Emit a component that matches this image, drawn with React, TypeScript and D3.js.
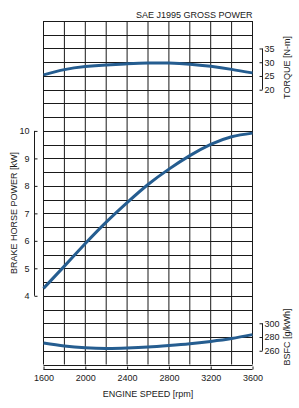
import React, { useEffect, useRef } from 'react';
import * as d3 from 'd3';

const rpm = [1600, 1800, 2000, 2200, 2400, 2600, 2800, 3000, 3200, 3400, 3600];
const torque = [25.4, 27.3, 28.4, 29.0, 29.4, 29.7, 29.7, 29.3, 28.5, 27.4, 26.1];
const power = [4.27, 5.08, 5.9, 6.68, 7.39, 8.05, 8.61, 9.1, 9.51, 9.79, 9.92];
const bsfc = [271.3, 267.0, 264.4, 263.4, 264.0, 265.4, 267.6, 270.2, 273.6, 277.8, 283.5];

const rpmTicks = [1600, 2000, 2400, 2800, 3200, 3600];
const powerTicks = [4, 5, 6, 7, 8, 9, 10];
const torqueTicks = [20, 25, 30, 35];
const bsfcTicks = [260, 280, 300];

const FONT = 'Liberation Sans, Arial, sans-serif';
const BLUE = '#255d90';
const INK = '#1a1a1a';

export default function App() {
  const ref = useRef<SVGSVGElement>(null);

  useEffect(() => {
    const svg = d3.select(ref.current);
    svg.selectAll('*').remove();

    const top = 21, bottom = 364.5, left = 43.5, right = 252.5;

    const x = d3.scaleLinear().domain([1600, 3600]).range([left, right]);
    // each grid row is 0.5 kW, 5 N-m or 20 g/kWh
    const yPow = d3.scaleLinear().domain([1.5, 14]).range([bottom, top]);
    const yTq = d3.scaleLinear().domain([-80, 45]).range([bottom, top]);
    const yBs = d3.scaleLinear().domain([240, 740]).range([bottom, top]);

    // grid
    const grid = svg.append('g').attr('stroke', INK).attr('stroke-width', 1);
    grid.selectAll('.v')
      .data(d3.range(1600, 3601, 200))
      .enter().append('line')
      .attr('x1', d => x(d)).attr('x2', d => x(d))
      .attr('y1', top).attr('y2', bottom);
    grid.selectAll('.h')
      .data(d3.range(1.5, 14.01, 0.5))
      .enter().append('line')
      .attr('x1', left).attr('x2', right)
      .attr('y1', d => Math.round(yPow(d)) + 0.5).attr('y2', d => Math.round(yPow(d)) + 0.5);

    // axis line only spans its own ticks
    const styleAxis = (g: any, scale: any, ticks: number[], vertical: boolean) => {
      g.select('.domain').remove();
      const a = scale(ticks[0]), b = scale(ticks[ticks.length - 1]);
      g.append('line')
        .attr('stroke', INK)
        .attr(vertical ? 'y1' : 'x1', a).attr(vertical ? 'y2' : 'x2', b);
      g.selectAll('.tick line').attr('stroke', INK);
      g.selectAll('.tick text')
        .attr('fill', INK)
        .attr('font-size', 9)
        .attr('font-family', FONT);
    };

    // x axis
    svg.append('g')
      .attr('transform', 'translate(0,369.5)')
      .call(d3.axisBottom(x).tickValues(rpmTicks).tickSizeInner(-3).tickSizeOuter(0).tickPadding(5).tickFormat(d3.format('d')))
      .call(g => styleAxis(g, x, rpmTicks, false));

    // power axis (left)
    svg.append('g')
      .attr('transform', 'translate(34.5,0)')
      .call(d3.axisLeft(yPow).tickValues(powerTicks).tickSizeInner(-3).tickSizeOuter(0).tickPadding(5))
      .call(g => styleAxis(g, yPow, powerTicks, true));

    // torque axis (right)
    svg.append('g')
      .attr('transform', 'translate(262.5,0)')
      .call(d3.axisRight(yTq).tickValues(torqueTicks).tickSizeInner(-3).tickSizeOuter(0).tickPadding(2))
      .call(g => styleAxis(g, yTq, torqueTicks, true));

    // bsfc axis (right)
    svg.append('g')
      .attr('transform', 'translate(262.5,0)')
      .call(d3.axisRight(yBs).tickValues(bsfcTicks).tickSizeInner(-3).tickSizeOuter(0).tickPadding(2))
      .call(g => styleAxis(g, yBs, bsfcTicks, true));

    // curves
    const curves: [number[], d3.ScaleLinear<number, number>][] = [
      [torque, yTq],
      [power, yPow],
      [bsfc, yBs],
    ];
    curves.forEach(([vals, y]) => {
      const line = d3.line<number>()
        .x((_, i) => x(rpm[i]))
        .y(d => y(d))
        .curve(d3.curveNatural);
      svg.append('path')
        .datum(vals)
        .attr('fill', 'none')
        .attr('stroke', BLUE)
        .attr('stroke-width', 3)
        .attr('d', line);
    });

    // labels
    const label = (txt: string, tx: number, ty: number, rot: number, anchor = 'middle') => {
      svg.append('text')
        .attr('transform', `translate(${tx},${ty}) rotate(${rot})`)
        .attr('text-anchor', anchor)
        .attr('dominant-baseline', rot ? 'central' : 'auto')
        .attr('font-size', 9)
        .attr('font-family', FONT)
        .attr('fill', INK)
        .text(txt);
    };
    label('SAE J1995 GROSS POWER', right, 17.5, 0, 'end');
    label('ENGINE SPEED [rpm]', (left + right) / 2, 396.5, 0);
    label('BRAKE HORSE POWER [kW]', 13.5, 213, -90);
    label('TORQUE [N-m]', 286.5, 67.5, -90);
    label('BSFC [g/kWh]', 286.5, 337, -90);
  }, []);

  return (
    <svg ref={ref} width={299} height={408}
      style={{ position: 'absolute', left: 0, top: 0, background: '#fff' }} />
  );
}
